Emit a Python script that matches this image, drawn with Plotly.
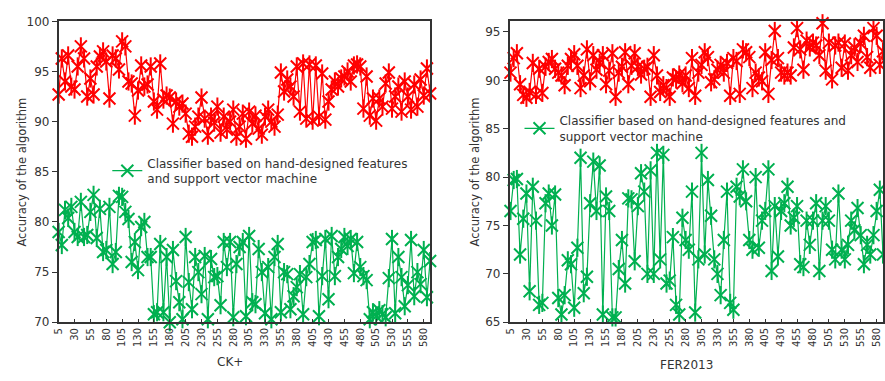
import plotly.graph_objects as go

samples = list(range(5, 591, 5))  # 118 test samples (categories)
x_ticks = list(range(5, 581, 25))

ck_red = [
    92.7, 96.3, 94.0, 96.6, 93.5, 93.2, 95.5, 97.5, 96.3, 92.5,
    94.3, 92.7, 95.5, 96.5, 97.0, 96.0, 92.3, 96.6, 96.3, 95.2,
    98.0, 97.5, 94.0, 93.8, 90.6, 93.1, 95.6, 93.5, 93.7, 95.5,
    92.0, 91.2, 95.8, 92.2, 92.6, 92.4, 89.8, 92.0, 91.5, 91.8,
    90.8, 88.8, 88.5, 89.5, 90.5, 92.4, 90.3, 88.6, 90.5, 89.9,
    91.5, 88.9, 90.5, 89.2, 90.0, 91.2, 88.5, 89.5, 90.8, 88.3,
    91.0, 89.8, 90.6, 89.3, 88.7, 90.5, 91.2, 90.0, 89.5, 90.7,
    94.9, 93.0, 94.2, 93.5, 92.5, 95.5, 91.0, 95.8, 90.3, 95.7,
    90.1, 95.6, 90.5, 94.8, 90.2, 92.0, 93.2, 94.0, 93.5, 94.3,
    94.5, 95.0, 94.0, 95.6, 95.7, 95.5, 91.3, 94.5, 90.6, 92.3,
    90.1, 92.3, 91.5, 93.8, 94.9, 91.3, 92.5, 93.5, 91.0, 94.0,
    92.5, 91.2, 93.7, 91.5, 94.2, 92.6, 95.3, 92.8,
]

ck_green = [
    79.0, 77.7, 81.2, 80.4, 81.5, 79.0, 78.5, 82.0, 78.5, 78.7,
    81.0, 82.7, 78.4, 81.3, 77.0, 77.2, 81.5, 75.8, 77.0, 82.6,
    82.5, 81.0, 80.3, 76.0, 78.0, 75.2, 79.5, 80.0, 76.5, 76.5,
    70.8, 71.0, 77.8, 71.0, 76.5, 70.0, 77.2, 74.1, 72.0, 70.3,
    78.5, 74.0, 71.3, 76.5, 75.0, 72.8, 76.6, 70.3, 76.3, 74.5,
    74.6, 71.7, 78.0, 75.5, 78.0, 70.5, 75.8, 77.5, 78.0, 70.6,
    78.6, 72.0, 71.8, 77.3, 75.0, 70.9, 75.5, 70.3, 76.5, 77.8,
    71.0, 75.0, 74.8, 71.3, 72.6, 73.5, 74.8, 70.8, 74.5, 75.8,
    78.0, 78.2, 70.6, 74.6, 78.3, 72.3, 78.6, 74.6, 76.5, 77.3,
    78.5, 77.6, 78.3, 74.9, 78.0, 75.5, 74.6, 74.2, 70.3, 71.0,
    70.6, 71.2, 70.8, 70.5, 74.4, 78.3, 70.9, 76.5, 74.5, 71.6,
    73.7, 78.2, 72.6, 75.0, 73.8, 77.2, 72.5, 76.1,
]

fer_red = [
    90.8, 92.3, 92.8, 89.6, 88.5, 88.2, 88.8, 91.8, 88.5, 91.2,
    88.7, 91.4, 91.9, 92.2, 91.2, 90.8, 90.5, 89.5, 91.5, 92.2,
    92.7, 91.5, 89.2, 90.5, 93.2, 89.9, 92.6, 91.1, 91.8, 92.6,
    89.6, 91.0, 92.8, 88.3, 90.8, 91.4, 92.9, 89.6, 91.5, 92.8,
    91.4, 90.6, 91.2, 91.4, 88.3, 92.6, 90.5, 88.8, 89.5, 89.2,
    88.3, 90.3, 90.1, 90.6, 89.7, 90.5, 89.2, 92.3, 88.4, 90.8,
    91.6, 92.9, 92.4, 89.8, 90.1, 91.1, 91.6, 90.8, 91.8, 88.4,
    92.3, 92.0, 88.6, 93.2, 92.9, 92.4, 89.2, 90.8, 90.3, 89.9,
    92.9, 88.6, 92.1, 95.1, 92.3, 90.8, 90.5, 90.8, 90.5, 93.4,
    95.4, 93.2, 91.1, 94.1, 93.4, 93.9, 93.6, 92.6, 95.9, 91.0,
    93.9, 90.1, 93.6, 93.9, 91.3, 93.8, 91.0, 92.6, 93.4, 91.9,
    93.8, 94.6, 92.4, 91.3, 95.4, 94.6, 91.6, 93.0,
]

fer_green = [
    76.5, 79.7, 79.8, 72.0, 75.7, 78.3, 68.2, 79.0, 75.5, 66.8,
    67.0, 77.3, 78.3, 75.0, 78.2, 67.5, 65.8, 67.8, 71.4, 71.0,
    66.5, 72.7, 82.0, 68.0, 69.7, 77.3, 81.6, 76.5, 81.2, 65.8,
    78.0, 76.5, 65.5, 65.5, 70.5, 73.5, 69.0, 77.8, 77.7, 71.3,
    77.0, 80.4, 78.5, 70.0, 80.7, 70.0, 82.5, 71.5, 82.3, 69.0,
    69.3, 73.8, 66.8, 65.8, 75.8, 73.5, 72.5, 78.5, 66.0, 71.5,
    82.5, 72.0, 79.7, 76.0, 71.5, 70.0, 67.8, 73.5, 78.5, 67.0,
    66.3, 79.0, 78.0, 80.8, 77.5, 73.5, 72.5, 80.0, 72.7, 75.5,
    76.5, 80.8, 70.3, 77.0, 71.8, 76.5, 77.3, 79.0, 75.0, 75.8,
    77.0, 71.0, 70.7, 75.5, 73.0, 75.5, 77.3, 70.3, 75.5, 77.0,
    75.5, 72.5, 71.5, 78.3, 72.5, 71.5, 73.0, 75.5, 74.5, 76.8,
    74.0, 71.0, 73.0, 72.0, 74.0, 76.5, 78.7, 72.0,
]

RED = "#FF0000"
GREEN = "#00B050"
LEGEND_TEXT_L = "Classifier based on hand-designed features<br>and support vector machine"
LEGEND_TEXT_R = "Classifier based on hand-designed features and<br>support vector machine"
FONT = "DejaVu Sans"

fig = go.Figure()


def add_series(x, y, color, xa, ya, name=None, legend=None):
    # line + x-thin part of the asterisk marker
    fig.add_trace(go.Scatter(
        x=x, y=y, mode="lines+markers", xaxis=xa, yaxis=ya,
        line=dict(color=color, width=1.2),
        marker=dict(symbol="x-thin-open", size=12, color=color,
                    line=dict(color=color, width=2)),
        name=name or "", showlegend=name is not None,
        legend=legend or "legend", cliponaxis=False,
    ))
    # vertical stroke of the asterisk marker
    fig.add_trace(go.Scatter(
        x=x, y=y, mode="markers", xaxis=xa, yaxis=ya,
        marker=dict(symbol="line-ns-open", size=13, color=color,
                    line=dict(color=color, width=2)),
        showlegend=False, hoverinfo="skip", cliponaxis=False,
    ))


add_series(samples, ck_red, RED, "x", "y")
add_series(samples, ck_green, GREEN, "x", "y", name=LEGEND_TEXT_L, legend="legend")
add_series(samples, fer_red, RED, "x2", "y2")
add_series(samples, fer_green, GREEN, "x2", "y2", name=LEGEND_TEXT_R, legend="legend2")

y_dom = [0.141, 0.961]
xaxis_common = dict(
    tickmode="array", tickvals=x_ticks, ticktext=[str(v) for v in x_ticks],
    tickangle=-90, ticks="inside", ticklen=4, tickcolor="#333",
    showline=True, linecolor="#333", linewidth=1.5, mirror=True,
    showgrid=False, zeroline=False,
    tickfont=dict(family=FONT, size=10, color="#333"),
)
yaxis_common = dict(
    ticks="outside", ticklen=5, tickcolor="#333",
    showline=True, linecolor="#333", linewidth=1.5, mirror=True,
    showgrid=False, zeroline=False,
    tickfont=dict(family=FONT, size=12, color="#333"),
)


def title_ann(text, px, py, angle=0, size=12):
    return dict(text=text, x=px / 885, y=1 - py / 381, xref="paper", yref="paper",
                xanchor="center", yanchor="middle", textangle=angle, showarrow=False,
                font=dict(family=FONT, size=size, color="#333"))


fig.update_layout(
    width=885, height=381,
    margin=dict(l=0, r=0, t=0, b=0),
    paper_bgcolor="white", plot_bgcolor="white",
    font=dict(family=FONT, color="#333"),
    xaxis=dict(domain=[53 / 885, 427 / 885], range=[5, 590], anchor="y", **xaxis_common),
    yaxis=dict(domain=y_dom, range=[70, 100], dtick=5, anchor="x", **yaxis_common),
    xaxis2=dict(domain=[507 / 885, 883 / 885], range=[3.5, 590], anchor="y2", **xaxis_common),
    yaxis2=dict(domain=y_dom, range=[65, 96.1], tickvals=[65, 70, 75, 80, 85, 90, 95],
                anchor="x2", **yaxis_common),
    legend=dict(x=102 / 885, y=1 - 147 / 381, xanchor="left", yanchor="top",
                bgcolor="rgba(0,0,0,0)", font=dict(family=FONT, size=12, color="#333"),
                itemwidth=30, tracegroupgap=0),
    legend2=dict(x=517 / 885, y=1 - 103 / 381, xanchor="left", yanchor="top",
                 bgcolor="rgba(0,0,0,0)", font=dict(family=FONT, size=12, color="#333"),
                 itemwidth=30, tracegroupgap=0),
    annotations=[
        title_ann("Accuracy of the algorithm", 16, 171, angle=-90, size=11.5),
        title_ann("Accuracy of the algorithm", 472, 171, angle=-90, size=11.5),
        title_ann("CK+", 226, 369),
        title_ann("FER2013", 685, 372),
    ],
)

fig.write_html("out.html")
